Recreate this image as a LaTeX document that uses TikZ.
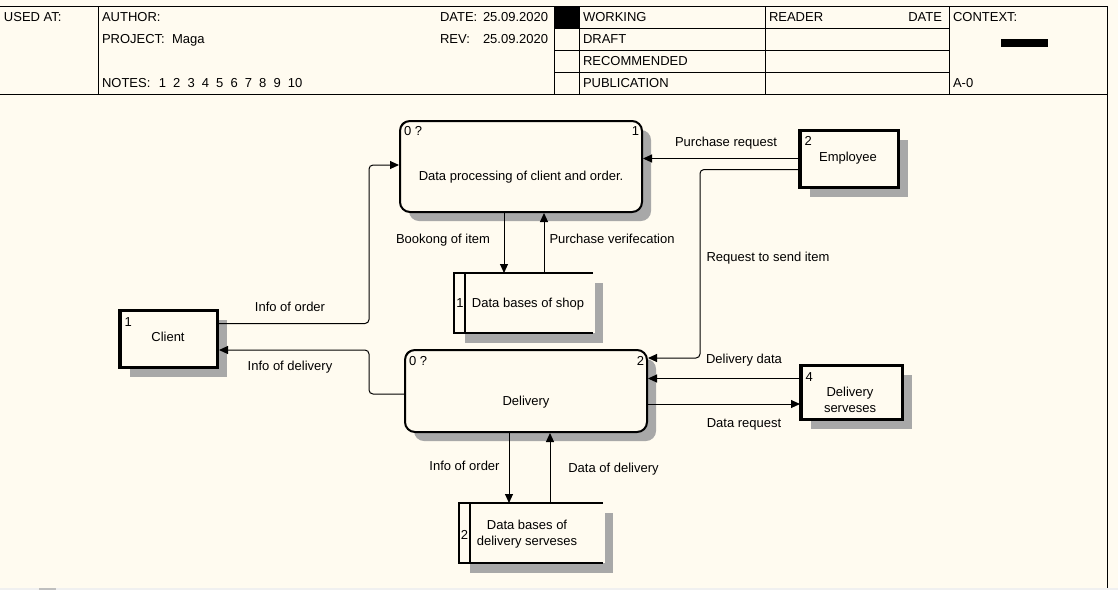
\documentclass[tikz,border=0pt]{standalone}
\usepackage{fontspec}
\setmainfont{Liberation Sans}
\usetikzlibrary{arrows.meta,shadows}
\definecolor{bg}{HTML}{FFFBF0}
\definecolor{hatchgray}{HTML}{A8A8A8}
\definecolor{barbg}{HTML}{F0F0F0}
\begin{document}
\begin{tikzpicture}[x=1pt,y=-1pt,
  every node/.style={font=\fontsize{13}{16}\selectfont, inner sep=0pt, outer sep=0pt},
  tl/.style={anchor=base west},
  tr/.style={anchor=base east},
  tc/.style={anchor=base},
  hline/.style={line width=1pt},
  proc/.style={draw, line width=2pt, outer sep=1pt, rounded corners=10pt, fill=bg,
    general shadow={fill=hatchgray, shadow xshift=9pt, shadow yshift=-9pt}},
  ent/.style={draw, line width=3pt, outer sep=1.5pt, fill=bg,
    general shadow={fill=hatchgray, shadow xshift=9pt, shadow yshift=-9pt}},
  storebox/.style={minimum width=#1, minimum height=60},
  sline/.style={line width=2pt},
  thickedge/.style={line width=4.5pt},
  flow/.style={line width=1pt, rounded corners=4pt, -{Triangle[length=9pt,width=8pt]}}]

\useasboundingbox (0,0) rectangle (1118,590);
\fill[bg] (0,0) rectangle (1118,590);
\fill[barbg] (0,588) rectangle (1118,590);
\fill[black!25] (39,588) rectangle (56,590);

% ---------- header frame ----------
\draw[hline] (0,6.5) -- (1107.5,6.5);
\draw[hline] (0,94.5) -- (1107.5,94.5);
\draw[hline] (1107.5,6.5) -- (1107.5,587.5);
\draw[hline] (98,6.5) -- (98,94.5);
\draw[hline] (554,6.5) -- (554,94.5);
\draw[hline] (579,6.5) -- (579,94.5);
\draw[hline] (765,6.5) -- (765,94.5);
\draw[hline] (949,6.5) -- (949,94.5);
\foreach \yy in {28.5,50.5,72.5} \draw[hline] (554,\yy) -- (949,\yy);
\fill[black] (554,6.5) rectangle (579,28.5);
\fill[black] (1001,39) rectangle (1048,47);

\node[tl] (usedat) at (4,21.5) {USED AT:};
\node[tl] (author) at (102,21.5) {AUTHOR:};
\node[tl] (project) at (102,43) {PROJECT:};
\node[tl] (maga) at (172,43) {Maga};
\node[tl] (notes) at (102,87.5) {NOTES:\hspace{8.5pt}1\hspace{7.1pt}2\hspace{7.1pt}3\hspace{7.1pt}4\hspace{7.1pt}5\hspace{7.1pt}6\hspace{7.1pt}7\hspace{7.1pt}8\hspace{7.1pt}9\hspace{7.1pt}10};
\node[tl] (datek) at (440,21.5) {DATE:};
\node[tl] (datev) at (483,21.5) {25.09.2020};
\node[tl] (revk) at (440,43) {REV:};
\node[tl] (revv) at (483,43) {25.09.2020};
\node[tl] (working) at (583,21.5) {WORKING};
\node[tl] (draft) at (583,43.5) {DRAFT};
\node[tl] (recom) at (583,65.5) {RECOMMENDED};
\node[tl] (publ) at (583,87.5) {PUBLICATION};
\node[tl] (reader) at (769,21.5) {READER};
\node[tr] (rdate) at (942,21.5) {DATE};
\node[tl] (context) at (953,21.5) {CONTEXT:};
\node[tl] (azero) at (953,87.5) {A-0};

% ---------- processes ----------
\node[proc, minimum width=242, minimum height=91] (p1) at (521,166.5) {};
\draw[line width=0.8pt] ([shift={(1.5,8)}]p1.north west) arc[start angle=180, end angle=90, radius=6.5pt];
\node[tl] (p1a) at (404,135) {0 ?};
\node[tr] (p1b) at (639,135) {1};
\node[tc] (p1t) at (521,180.5) {Data processing of client and order.};

\node[proc, minimum width=242, minimum height=82] (p2) at (526,391) {};
\draw[line width=0.8pt] ([shift={(1.5,8)}]p2.north west) arc[start angle=180, end angle=90, radius=6.5pt];
\node[tl] (p2a) at (409,365) {0 ?};
\node[tr] (p2b) at (644,365) {2};
\node[tc] (p2t) at (526,405.5) {Delivery};

% ---------- external entities ----------
\node[ent, minimum width=97, minimum height=57] (cl) at (169,339) {};
\draw[thickedge] ([shift={(0.75,0)}]cl.north west) -- ([shift={(0.75,0)}]cl.south west);
\node[tl] (cln) at (124.5,326) {1};
\node[tc] (clt) at (168,341.5) {Client};

\node[ent, minimum width=98, minimum height=57] (emp) at (849.5,159) {};
\draw[thickedge] ([shift={(0.75,0)}]emp.north west) -- ([shift={(0.75,0)}]emp.south west);
\node[tl] (empn) at (804.5,145) {2};
\node[tc] (empt) at (848,161.5) {Employee};

\node[ent, minimum width=101, minimum height=54] (dsv) at (852,392.5) {};
\draw[thickedge] ([shift={(0.75,0)}]dsv.north west) -- ([shift={(0.75,0)}]dsv.south west);
\node[tl] (dsvn) at (805.5,381.5) {4};
\node[tc, align=center] (dsvt) at (850,412.5) {Delivery\\serveses};

% ---------- data stores ----------
\node[storebox=139] (ds1) at (523.5,303) {};
\fill[hatchgray] ([xshift=11pt]ds1.south west) rectangle ([shift={(10,10)}]ds1.south east);
\fill[hatchgray] ([shift={(2,10)}]ds1.north east) rectangle ([shift={(10,10)}]ds1.south east);
\draw[sline] (ds1.north east) -- (ds1.north west) -- (ds1.south west) -- (ds1.south east);
\draw[sline] ([xshift=11pt]ds1.north west) -- ([xshift=11pt]ds1.south west);
\node[tc] (ds1n) at (460,307.5) {1};
\node[tc] (ds1t) at (528,307.5) {Data bases of shop};

\node[storebox=144] (ds2) at (531,533) {};
\fill[hatchgray] ([xshift=11pt]ds2.south west) rectangle ([shift={(10,10)}]ds2.south east);
\fill[hatchgray] ([shift={(2,10)}]ds2.north east) rectangle ([shift={(10,10)}]ds2.south east);
\draw[sline] (ds2.north east) -- (ds2.north west) -- (ds2.south west) -- (ds2.south east);
\draw[sline] ([xshift=11pt]ds2.north west) -- ([xshift=11pt]ds2.south west);
\node[tc] (ds2n) at (464.5,539) {2};
\node[tc, align=center] (ds2t) at (527,545.5) {Data bases of\\delivery serveses};

% ---------- flows ----------
\draw[flow] (cl.east |- 0,323.5) -- (369,323.5) -- (369,165) -- (p1.west |- 0,165);
\node[tc] (l1) at (290,311.5) {Info of order};

\draw[flow] (p2.west |- 0,394) -- (369,394) -- (369,350) -- (cl.east |- 0,350);
\node[tc] (l2) at (290,370) {Info of delivery};

\draw[flow] (p1.south -| 504,0) -- (ds1.north -| 504,0);
\node[tc] (l3) at (443,243.5) {Bookong of item};

\draw[flow] (ds1.north -| 544,0) -- (p1.south -| 544,0);
\node[tc] (l4) at (612,243.5) {Purchase verifecation};

\draw[flow] (emp.west |- 0,158.5) -- (p1.east |- 0,158.5);
\node[tc] (l5) at (726,146) {Purchase request};

\draw[flow] (emp.west |- 0,169.5) -- (700,169.5) -- (700,358) -- (p2.east |- 0,358);
\node[tc] (l6) at (768,261) {Request to send item};

\draw[flow] (dsv.west |- 0,378.5) -- (p2.east |- 0,378.5);
\node[tc] (l7) at (744,363.5) {Delivery data};

\draw[flow] (p2.east |- 0,404) -- (dsv.west |- 0,404);
\node[tc] (l8) at (744,427) {Data request};

\draw[flow] (p2.south -| 509,0) -- (ds2.north -| 509,0);
\node[tc] (l9) at (464.5,470) {Info of order};

\draw[flow] (ds2.north -| 550,0) -- (p2.south -| 550,0);
\node[tc] (l10) at (613.5,472.5) {Data of delivery};
\end{tikzpicture}
\end{document}
